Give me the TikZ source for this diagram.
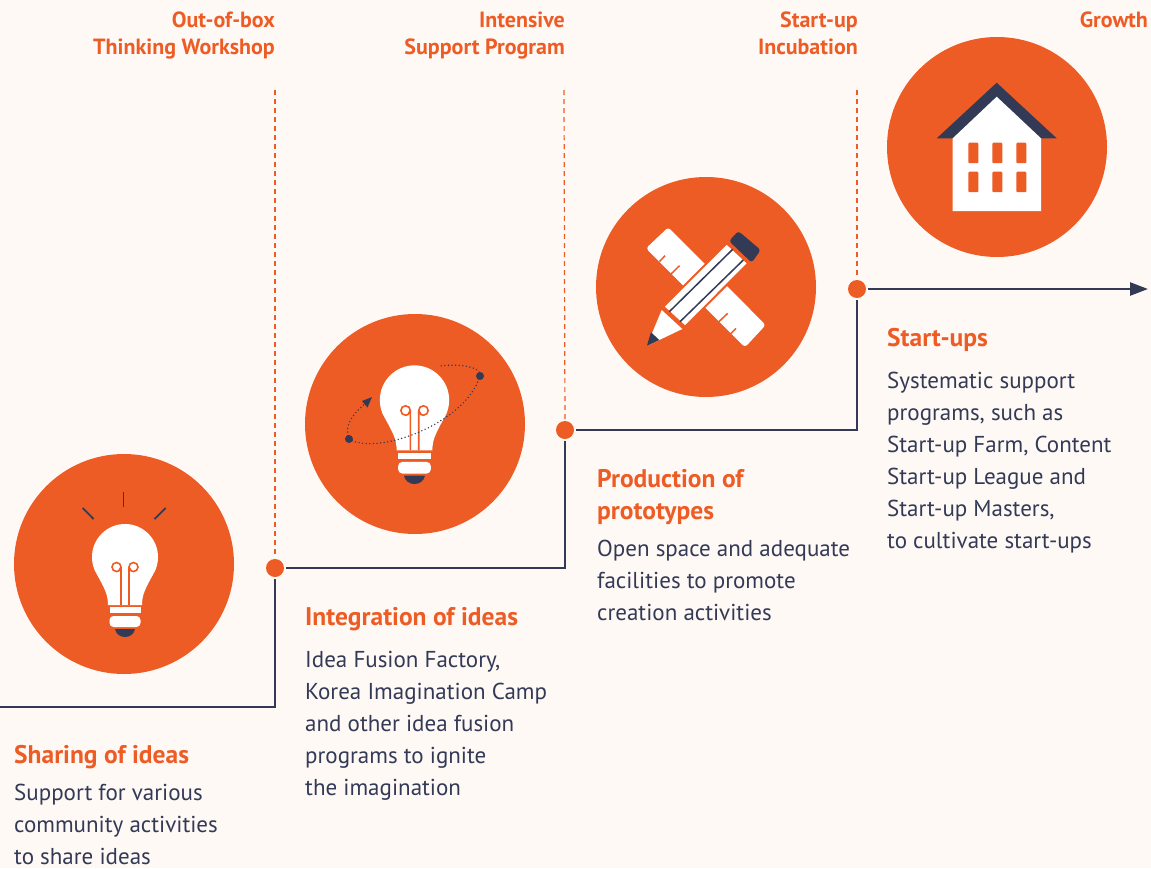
\documentclass[tikz,border=0pt]{standalone}
\usepackage{fontspec}
\setmainfont{PT Sans}
\usetikzlibrary{arrows.meta}
\usetikzlibrary{calc}
\definecolor{step_orange}{HTML}{EE5C25}
\definecolor{step_dark}{HTML}{333A56}
\definecolor{step_paper}{HTML}{FFF9F6}
\begin{document}
\begin{tikzpicture}[x=1pt, y=-1pt,
        disc_style/.style={circle,fill=step_orange,inner sep=0pt,minimum size=220pt},
        dot_style/.style={circle,fill=step_orange,inner sep=0pt,minimum size=18pt,outer sep=1.5pt},
        stage_style/.style={inner sep=0pt,anchor=north east,align=right,text=step_orange,font=\fontsize{22}{27}\selectfont\bfseries},
        head_style/.style={inner sep=0pt,anchor=north west,align=left,text=step_orange,font=\fontsize{25.5}{32}\selectfont\bfseries},
        body_style/.style={inner sep=0pt,anchor=north west,align=left,text=step_dark,font=\fontsize{23}{32}\selectfont},
        edge_style/.style={draw=step_dark,line width=2.5pt},
        arrow_style/.style={draw=step_dark,line width=2.5pt,-{Triangle[length=18pt,width=13pt]}},
        dash_style/.style={draw=step_orange,line width=1.2pt,dash pattern=on 5pt off 4pt},
        orbit_style/.style={draw=step_dark,line width=1.6pt,line cap=round,dash pattern=on 0pt off 3.6pt},
        bulb/.pic={
            \fill[white] (-17,48) .. controls (-17,38) and (-20,32) .. (-28.6,16.5)
                .. controls (-31.5,12) and (-33,6) .. (-33,0)
                .. controls (-33,-18.2) and (-18.2,-33) .. (0,-33)
                .. controls (18.2,-33) and (33,-18.2) .. (33,0)
                .. controls (33,6) and (31.5,12) .. (28.6,16.5)
                .. controls (20,32) and (17,38) .. (17,48) -- cycle;
            \fill[white] (-15.5,50) rectangle (15.5,56);
            \fill[white,rounded corners=4pt] (-15.5,59) -- (-15.5,70) -- (15.5,70) -- (15.5,59) -- cycle;
            \fill[step_dark] (-10,72) .. controls (-9,77) and (-5,80) .. (0,80) .. controls (5,80) and (9,77) .. (10,72) -- cycle;
            \draw[step_orange,line width=1.6pt] (-4,48) -- (-4,14) .. controls (-4,11) .. (-4,10) arc[start angle=0,end angle=-300,radius=4.5] -- (-4,10);
            \draw[step_orange,line width=1.6pt] (4,48) -- (4,10) arc[start angle=180,end angle=480,radius=4.5] -- (4,10);
        }]

        \path[fill=step_paper,use as bounding box] (0,0) rectangle (1151,868);

        \node [disc_style](disc1) at (124,564) {};

        \node [disc_style](disc2) at (415,424) {};

        \node [disc_style](disc3) at (706,287) {};

        \node [disc_style](disc4) at (997,147) {};

        \pic at (125,557) {bulb};

        \draw [step_dark,line width=1.8pt] (123.5,492) -- (123.5,507);

        \draw [step_dark,line width=1.8pt] (82.7,508) -- (93.5,519);

        \draw [step_dark,line width=1.8pt] (165.7,508) -- (154.5,519);

        \pic[scale=1.05] at (414.5,400) {bulb};

        \coordinate (orbit_a) at (349,439);

        \coordinate (orbit_b) at (480,376);

        \draw [orbit_style] (orbit_a) .. controls (343,424) and (355,412) .. (367,402);

        \draw [orbit_style] (orbit_a) .. controls (375,456) and (465,425) .. (orbit_b) .. controls (483,368) and (462,363) .. (440,366);

        \fill [step_dark] (orbit_a) circle (4pt);

        \fill [step_dark] (orbit_b) circle (4pt);

        \fill [step_dark] (372,397) -- (362,401) -- (367.5,407.5) -- cycle;

        \fill [white,rounded corners=3pt] (668.3,227.3) -- (646,248.3) -- (745,347.3) -- (765.7,325) -- cycle;

        \draw [step_orange,line width=1.5pt] (665,255.7) -- (659.5,261.5);

        \draw [step_orange,line width=1.5pt] (679.5,265.7) -- (670,275);

        \draw [step_orange,line width=1.5pt] (727.7,313.3) -- (718.3,322.3);

        \draw [step_orange,line width=1.5pt] (736,328.3) -- (730,334.3);

        \fill [step_dark,rounded corners=3pt] (738.3,231) -- (760.7,250) -- (751.7,262.7) -- (729,241) -- cycle;

        \filldraw [fill=white,draw=step_orange,line width=2pt] (726.7,243.3) -- (748.3,263.3) -- (685,326.7) -- (663.3,306.7) -- cycle;

        \fill [white] (661.7,310) -- (682.3,329) -- (646.7,346) -- cycle;

        \fill [step_dark] (651,332.3) -- (659.3,340) -- (646.7,346) -- cycle;

        \draw [step_dark,line width=1.5pt] (732.7,249.3) -- (669.3,311.7);

        \draw [step_dark,line width=1.5pt] (743.3,260) -- (680,321.7);

        \fill [step_dark] (996.7,82.7) -- (1056.7,138.3) -- (936.7,138.3) -- cycle;

        \fill [white] (996.7,96.7) -- (1041,138.3) -- (1041,211) -- (952.7,211) -- (952.7,138.3) -- cycle;

        \foreach \winx in {968.3,992.3,1016.3}
            \foreach \winy in {142.7,171.7}
                \fill [step_orange,rounded corners=1pt] (\winx,\winy) rectangle ++(10,20.5);

        \node [dot_style](dot1) at (275,568) {};

        \node [dot_style](dot2) at (565,430) {};

        \node [dot_style](dot3) at (857,289) {};

        \coordinate (line_start) at (0,707);

        \coordinate (line_end) at (1148,289);

        \coordinate (dash1) at (275,90);

        \coordinate (dash2) at (564,90);

        \coordinate (dash3) at (857,90);

        \draw [dash_style] (dash1) -- (dot1);

        \draw [dash_style] (dash2) -- (dot2);

        \draw [dash_style] (dash3) -- (dot3);

        \draw [edge_style] (line_start) -| (dot1);

        \draw [edge_style] (dot1) -| (dot2);

        \draw [edge_style] (dot2) -| (dot3);

        \draw [arrow_style] (dot3) -- (line_end);

        \node [stage_style](stage1) at (275,12) {Out-of-box\\Thinking Workshop};

        \node [stage_style](stage2) at (565,12) {Intensive\\Support Program};

        \node [stage_style](stage3) at (858,12) {Start-up\\Incubation};

        \node [stage_style](stage4) at (1148,12) {Growth};

        \node [head_style](head1) at (14,745) {Sharing of ideas};

        \node [head_style](head2) at (305,607) {Integration of ideas};

        \node [head_style](head3) at (597,469) {Production of\\prototypes};

        \node [head_style](head4) at (887,328) {Start-ups};

        \node [body_style](body1) at (14,784) {Support for various\\community activities\\to share ideas};

        \node [body_style](body2) at (305,651) {Idea Fusion Factory,\\Korea Imagination Camp\\and other idea fusion\\programs to ignite\\the imagination};

        \node [body_style](body3) at (597,540) {Open space and adequate\\facilities to promote\\creation activities};

        \node [body_style](body4) at (887,372) {Systematic support\\programs, such as\\Start-up Farm, Content\\Start-up League and\\Start-up Masters,\\to cultivate start-ups};

        \end{tikzpicture}
\end{document}
